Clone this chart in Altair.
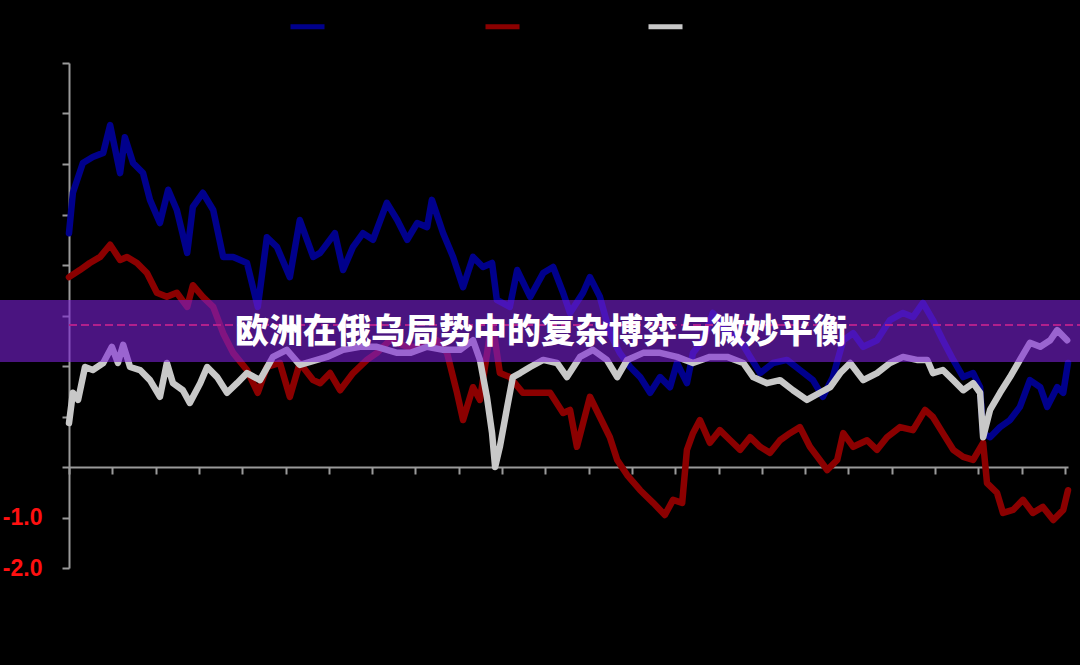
import altair as alt
import pandas as pd

SERIES = ["Euro area spreads", "German Bund", "US Treasury"]
COLORS = ["#00008c", "#8b0000", "#c8c8c8"]
TITLE = "欧洲在俄乌局势中的复杂博弈与微妙平衡"

blue_t = [0.0, 0.09, 0.32, 0.55, 0.79, 0.95, 1.18, 1.29, 1.48, 1.71, 1.87, 2.10, 2.29, 2.49, 2.73, 2.86,
          3.09, 3.33, 3.56, 3.79, 4.11, 4.36, 4.57, 4.80, 5.10, 5.33, 5.64, 5.80, 6.14, 6.33, 6.56, 6.79,
          7.02, 7.34, 7.58, 7.81, 8.04, 8.27, 8.38, 8.64, 8.87, 9.10, 9.33, 9.56, 9.77, 9.88, 10.18, 10.35,
          10.65, 10.95, 11.18, 11.41, 11.57, 11.87, 12.03, 12.26, 12.49, 12.72, 12.96, 13.19, 13.42, 13.65,
          13.88, 14.04, 14.27, 14.41, 14.64, 14.87, 15.20, 15.50, 15.73, 15.96, 16.26, 16.58, 16.88, 17.18,
          17.41, 17.64, 17.88, 18.11, 18.34, 18.66, 18.96, 19.26, 19.49, 19.72, 19.95, 20.18, 20.42, 20.65,
          20.88, 21.04, 21.11, 21.27, 21.50, 21.73, 21.96, 22.19, 22.43, 22.59, 22.82, 22.96, 23.07]
blue_v = [4.63, 5.43, 6.02, 6.14, 6.22, 6.77, 5.82, 6.53, 6.02, 5.82, 5.29, 4.83, 5.49, 5.09, 4.24, 5.15,
          5.43, 5.09, 4.16, 4.16, 4.04, 3.17, 4.55, 4.36, 3.76, 4.89, 4.16, 4.24, 4.63, 3.90, 4.36, 4.63,
          4.50, 5.23, 4.89, 4.50, 4.83, 4.75, 5.29, 4.63, 4.16, 3.56, 4.16, 3.96, 4.04, 3.31, 3.17, 3.90,
          3.37, 3.84, 3.96, 3.45, 3.05, 3.45, 3.76, 3.37, 2.65, 2.26, 1.98, 1.78, 1.47, 1.78,
          1.58, 2.06, 1.66, 2.26, 2.51, 3.05, 2.65, 2.51, 2.18, 1.86, 2.06, 2.12, 1.92, 1.72,
          1.39, 1.78, 2.51, 2.65, 2.38, 2.51, 2.91, 3.05, 2.97, 3.25, 2.91, 2.51, 2.12, 1.78,
          1.86, 1.58, 0.67, 0.59, 0.79, 0.93, 1.19, 1.72, 1.58, 1.19, 1.58, 1.47, 2.06]

red_t = [0.0, 0.25, 0.48, 0.72, 0.95, 1.18, 1.34, 1.57, 1.80, 2.03, 2.26, 2.49, 2.73, 2.86, 3.09, 3.33,
         3.56, 3.79, 4.11, 4.36, 4.57, 4.87, 5.10, 5.33, 5.64, 5.80, 6.03, 6.26, 6.56, 6.88, 7.11, 7.41,
         7.81, 8.11, 8.50, 8.73, 8.96, 9.10, 9.33, 9.49, 9.77, 9.95, 10.18, 10.48, 10.81, 11.11, 11.41,
         11.57, 11.73, 12.03, 12.26, 12.49, 12.66, 12.89, 13.19, 13.49, 13.76, 13.95, 14.16, 14.27, 14.41,
         14.57, 14.80, 15.03, 15.27, 15.50, 15.73, 15.96, 16.19, 16.42, 16.65, 16.88, 17.11, 17.34, 17.51,
         17.74, 17.88, 18.11, 18.43, 18.66, 18.89, 19.19, 19.49, 19.77, 19.95, 20.18, 20.42, 20.65, 20.88,
         21.11, 21.20, 21.43, 21.57, 21.80, 22.03, 22.26, 22.49, 22.73, 22.96, 23.07]
red_v = [3.76, 3.90, 4.04, 4.16, 4.40, 4.10, 4.16, 4.04, 3.84, 3.45, 3.37, 3.45, 3.17, 3.60, 3.37, 3.17,
         2.65, 2.26, 1.92, 1.47, 1.98, 2.06, 1.39, 2.06, 1.72, 1.66, 1.86, 1.52, 1.86, 2.12, 2.26, 2.51,
         2.38, 2.38, 2.51, 2.26, 1.47, 0.93, 1.58, 1.33, 2.90, 1.86, 1.78, 1.47, 1.47, 1.47, 1.07,
         1.13, 0.40, 1.39, 0.99, 0.59, 0.14, -0.16, -0.46, -0.71, -0.95, -0.65, -0.71, 0.34, 0.67,
         0.93, 0.48, 0.73, 0.53, 0.34, 0.59, 0.40, 0.28, 0.53, 0.67, 0.79, 0.40, 0.14, -0.06,
         0.14, 0.67, 0.40, 0.53, 0.34, 0.59, 0.79, 0.73, 1.13, 0.99, 0.67, 0.34, 0.20, 0.14,
         0.48, -0.32, -0.51, -0.91, -0.85, -0.65, -0.91, -0.79, -1.05, -0.85, -0.46]

gray_t = [0.0, 0.09, 0.21, 0.37, 0.55, 0.79, 0.99, 1.13, 1.25, 1.41, 1.64, 1.87, 2.10, 2.26, 2.40, 2.63,
          2.79, 3.03, 3.19, 3.42, 3.65, 3.88, 4.11, 4.41, 4.71, 5.03, 5.33, 5.57, 5.96, 6.33, 6.72, 7.11,
          7.58, 7.88, 8.27, 8.64, 9.03, 9.33, 9.49, 9.65, 9.77, 9.84, 9.95, 10.12, 10.25, 10.42, 10.65,
          10.95, 11.27, 11.50, 11.80, 12.10, 12.42, 12.66, 12.89, 13.26, 13.65, 14.04, 14.41, 14.80, 15.20,
          15.57, 15.80, 16.12, 16.42, 16.72, 17.04, 17.34, 17.58, 17.81, 18.04, 18.34, 18.66, 18.96, 19.26,
          19.58, 19.82, 19.95, 20.18, 20.42, 20.65, 20.88, 21.04, 21.11, 21.27, 21.50, 21.73, 21.96, 22.19,
          22.43, 22.66, 22.82, 23.05]
gray_v = [0.87, 1.47, 1.33, 1.98, 1.92, 2.06, 2.38, 2.06, 2.42, 1.98, 1.92, 1.72, 1.39, 2.06, 1.66, 1.52,
          1.27, 1.66, 1.98, 1.78, 1.47, 1.66, 1.86, 1.72, 2.18, 2.32, 2.02, 2.08, 2.18, 2.32, 2.38, 2.38,
          2.26, 2.26, 2.38, 2.32, 2.32, 2.51, 2.12, 1.39, 0.67, 0.0, 0.40, 1.19, 1.78, 1.86, 1.98,
          2.12, 2.06, 1.78, 2.18, 2.32, 2.12, 1.78, 2.12, 2.26, 2.26, 2.18, 2.06, 2.18, 2.18,
          2.06, 1.78, 1.66, 1.72, 1.52, 1.33, 1.47, 1.58, 1.86, 2.06, 1.72, 1.86, 2.06, 2.18,
          2.12, 2.12, 1.86, 1.92, 1.72, 1.52, 1.66, 1.47, 0.59, 1.13, 1.47, 1.78, 2.12, 2.46,
          2.38, 2.51, 2.71, 2.51]

Y_TICKS = [-2, -1, 0, 1, 2, 3, 4, 5, 6, 7, 8]
X_TICKS = list(range(0, 24))
DASH_LEVEL = 2.81

rows = []
for name, ts, vs in zip(SERIES, [blue_t, red_t, gray_t], [blue_v, red_v, gray_v]):
    for i, (t, v) in enumerate(zip(ts, vs)):
        rows.append({"series": name, "t": t, "v": v, "i": i})
df = pd.DataFrame(rows)

AX = "#9a9a9a"
x_enc = alt.X("t:Q", scale=alt.Scale(domain=[0, 23.07], nice=False, zero=False),
              axis=alt.Axis(values=X_TICKS, labels=False, title=None, grid=False,
                            domainColor=AX, domainWidth=2, tickColor=AX, tickWidth=2,
                            tickSize=7, offset=-101))
y_enc = alt.Y("v:Q", scale=alt.Scale(domain=[-2, 8], nice=False, zero=False),
              axis=alt.Axis(values=Y_TICKS, format=".1f", title=None, grid=False,
                            labelExpr="replace(datum.label, '\u2212', '-')",
                            domainColor=AX, domainWidth=2, tickColor=AX, tickWidth=2,
                            tickSize=7, labelPadding=20, labelFontSize=23,
                            labelFont="Liberation Sans", labelFontWeight="bold",
                            labelColor={"condition": {"test": "datum.value < 0", "value": "#ff1010"},
                                        "value": "#000000"}))
color_enc = alt.Color("series:N", scale=alt.Scale(domain=SERIES, range=COLORS),
                      legend=alt.Legend(orient="none", legendX=219, legendY=-56,
                                        direction="horizontal", title=None,
                                        symbolType="stroke", symbolSize=1156,
                                        symbolStrokeWidth=5, labelColor="#000000",
                                        labelFontSize=16, labelFont="Liberation Sans",
                                        columnPadding=10, labelOffset=6))

base = alt.Chart(df)
layers = []
for name in SERIES:
    layers.append(base.transform_filter(alt.datum.series == name).mark_line(
        strokeWidth=6.5, strokeJoin="round", strokeCap="round").encode(
        x=x_enc, y=y_enc, color=color_enc, order="i:Q"))

one = pd.DataFrame({"k": [0]})
dash = alt.Chart(one).mark_rule(color="#ff2020", strokeWidth=2, strokeDash=[8, 4]).encode(
    y=alt.datum(DASH_LEVEL), x=alt.value(0), x2=alt.value(1011))
banner = alt.Chart(one).mark_rect(color="#7b21d5", opacity=0.6).encode(
    x=alt.value(-69), x2=alt.value(1011), y=alt.value(237), y2=alt.value(299))
title = alt.Chart(one).mark_text(text=TITLE, font="Noto Sans CJK SC", fontWeight=900,
                                 fontSize=34, color="white", align="center",
                                 baseline="middle").encode(x=alt.value(472), y=alt.value(270))

chart = alt.layer(*layers, dash, banner, title).properties(
    width=999, height=505, autosize="none",
    padding={"left": 69, "top": 63, "right": 12, "bottom": 97},
    background="#000000",
).configure_view(stroke=None)

chart.save("out.html", embed_options={"renderer": "svg", "actions": False,
                                      "defaultStyle": "body{margin:0;background:#000000;}"})
